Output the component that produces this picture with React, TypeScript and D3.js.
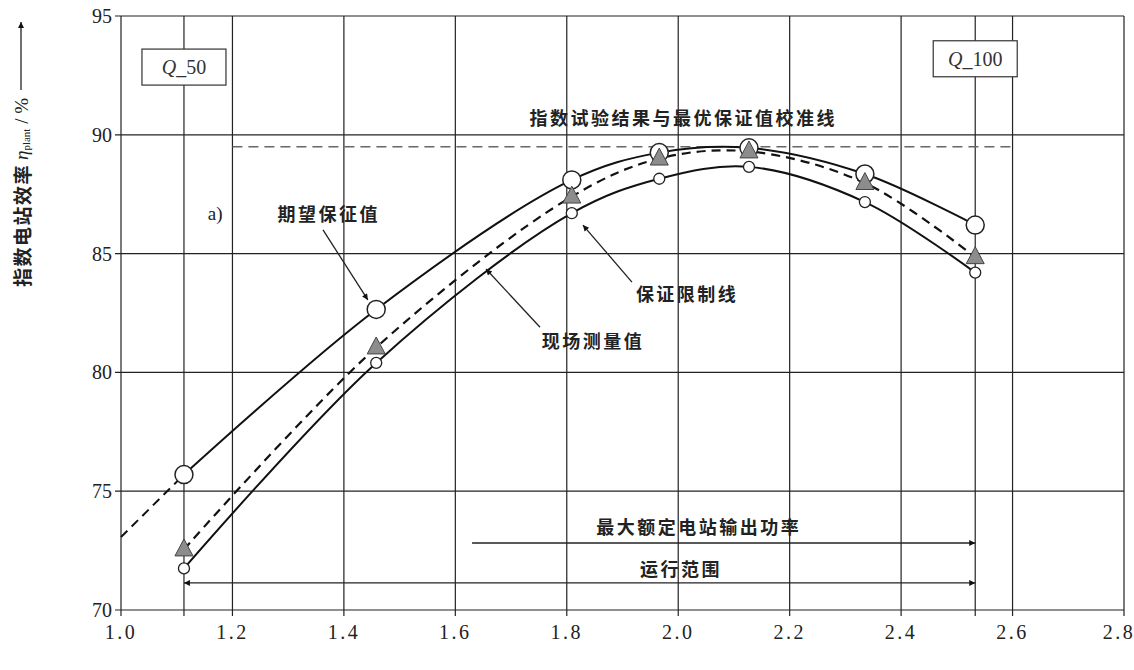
import React from 'react';
import * as d3 from 'd3';

// flow ratio at each test point and the three efficiency series (%)
const flowQ = [1.113, 1.458, 1.809, 1.966, 2.127, 2.335, 2.533];
const expected = [75.7, 82.65, 88.1, 89.25, 89.45, 88.35, 86.2];
const measured = [72.55, 81.05, 87.4, 89.0, 89.3, 87.97, 84.85];
const limit = [71.75, 80.4, 86.7, 88.15, 88.65, 87.17, 84.2];

// dashed extension of the expected curve back to the axis
const extensionQ = [1.0, 1.113];
const extensionEff = [73.07, 75.7];

const xTicks = [1.0, 1.2, 1.4, 1.6, 1.8, 2.0, 2.2, 2.4, 2.6, 2.8];
const yTicks = [70, 75, 80, 85, 90, 95];
const q50 = 1.113;
const q100 = 2.533;
const calibration = { from: 1.2, to: 2.6, eff: 89.5 };

const W = 1134;
const H = 670;
const serif = '"Liberation Serif", "DejaVu Serif", serif';
const cjk = '"Noto Sans CJK SC", sans-serif';

const App: React.FC = () => {
    const x = d3.scaleLinear().domain([1.0, 2.8]).range([121, 1124]);
    const y = d3.scaleLinear().domain([70, 95]).range([610, 16]);

    const line = d3.line<[number, number]>()
        .x(d => x(d[0]))
        .y(d => y(d[1]))
        .curve(d3.curveCatmullRom.alpha(0.5));
    const straight = d3.line<[number, number]>().x(d => x(d[0])).y(d => y(d[1]));

    const pts = (vals: number[]) => flowQ.map((q, i) => [q, vals[i]] as [number, number]);
    const vLines = [...xTicks, q50, q100];

    const tri = (cx: number, cy: number) => {
        const s = 18;
        return `M${cx},${cy - s * 0.58}L${cx + s / 2},${cy + s * 0.36}L${cx - s / 2},${cy + s * 0.36}Z`;
    };

    // annotation arrows in data space: [from, to]
    const arrows: [number, number, number, number][] = [
        [1.3625, 86.0, 1.443, 83.05],
        [1.917, 83.8, 1.829, 86.2],
        [1.752, 81.9, 1.655, 84.35],
    ];

    const cjkText = (tx: number, ty: number, label: string) => (
        <text x={x(tx)} y={y(ty)} textAnchor="middle" dominantBaseline="central"
            fontFamily={cjk} fontWeight="bold" fontSize={18} letterSpacing={2.5} fill="#222">{label}</text>
    );

    const qBox = (q: number, eff: number, num: string) => (
        <g>
            <rect x={x(q) - 42} y={y(eff) - 18} width={84} height={36} fill="#fff" stroke="#333" strokeWidth={1.2} />
            <text x={x(q)} y={y(eff)} textAnchor="middle" dominantBaseline="central" fontFamily={serif} fontSize={20} fill="#333">
                <tspan fontStyle="italic">Q</tspan>_{num}
            </text>
        </g>
    );

    return (
        <div style={{ position: 'absolute', left: 0, top: 0 }}>
            <svg width={W} height={H} style={{ display: 'block', background: '#fff' }}>
                <defs>
                    <marker id="head" viewBox="0 0 10 10" refX="10" refY="5" markerWidth="15" markerHeight="6"
                        markerUnits="userSpaceOnUse" orient="auto-start-reverse">
                        <path d="M0,0L10,5L0,10Z" fill="#111" />
                    </marker>
                </defs>

                {/* grid */}
                {yTicks.map(t => (
                    <g key={'h' + t}>
                        <line x1={x(1.0) - 6} x2={x(2.8)} y1={y(t)} y2={y(t)} stroke="#222" strokeWidth={1.2} />
                        <text x={x(1.0) - 9} y={y(t)} textAnchor="end" dominantBaseline="central"
                            fontFamily={serif} fontSize={20} fill="#222">{t}</text>
                    </g>
                ))}
                {vLines.map(t => (
                    <line key={'v' + t} x1={x(t)} x2={x(t)} y1={y(95)} y2={y(70) + 6} stroke="#222" strokeWidth={1.2} />
                ))}
                {xTicks.map((t, i) => (
                    <text key={'xl' + t} x={x(t)} dx={i === xTicks.length - 1 ? -5 : 0} y={y(70) + 29} textAnchor="middle"
                        fontFamily={serif} fontSize={20} letterSpacing={2.5} fill="#222">{t.toFixed(1)}</text>
                ))}

                {/* calibration line */}
                <line x1={x(calibration.from)} x2={x(calibration.to)} y1={y(calibration.eff)} y2={y(calibration.eff)}
                    stroke="#666" strokeWidth={1.5} strokeDasharray="10,6" />

                {/* curves */}
                <path d={straight(extensionQ.map((q, i) => [q, extensionEff[i]] as [number, number]))!}
                    fill="none" stroke="#111" strokeWidth={2} strokeDasharray="9,6" />
                <path d={line(pts(expected))!} fill="none" stroke="#111" strokeWidth={2} />
                <path d={line(pts(limit))!} fill="none" stroke="#111" strokeWidth={2} />
                <path d={line(pts(measured))!} fill="none" stroke="#111" strokeWidth={2.2} strokeDasharray="9,6" />

                {/* markers */}
                {pts(expected).map(([q, v]) => (
                    <circle key={'e' + q} cx={x(q)} cy={y(v)} r={9} fill="#fff" stroke="#222" strokeWidth={1.5} />
                ))}
                {pts(measured).map(([q, v]) => (
                    <path key={'m' + q} d={tri(x(q), y(v))} fill="#8c8c8c" stroke="#444" strokeWidth={1} />
                ))}
                {pts(limit).map(([q, v]) => (
                    <circle key={'l' + q} cx={x(q)} cy={y(v)} r={5.5} fill="#fff" stroke="#222" strokeWidth={1.3} />
                ))}

                {/* annotation arrows */}
                {arrows.map((a, i) => (
                    <line key={'a' + i} x1={x(a[0])} y1={y(a[1])} x2={x(a[2])} y2={y(a[3])}
                        stroke="#222" strokeWidth={1.3} markerEnd="url(#head)" />
                ))}
                <line x1={x(1.63)} x2={x(q100)} y1={y(72.82)} y2={y(72.82)} stroke="#222" strokeWidth={1.3} markerEnd="url(#head)" />
                <line x1={x(q50)} x2={x(q100)} y1={y(71.14)} y2={y(71.14)} stroke="#222" strokeWidth={1.3}
                    markerStart="url(#head)" markerEnd="url(#head)" />

                {/* labels */}
                {cjkText(2.009, 90.75, '指数试验结果与最优保证值校准线')}
                {cjkText(1.373, 86.7, '期望保征值')}
                {cjkText(2.016, 83.34, '保证限制线')}
                {cjkText(1.847, 81.36, '现场测量值')}
                {cjkText(2.037, 73.54, '最大额定电站输出功率')}
                {cjkText(2.005, 71.77, '运行范围')}
                <text x={x(1.169)} y={y(86.7)} textAnchor="middle" dominantBaseline="central" fontFamily={serif}
                    fontSize={19} fill="#222">a)</text>
                {qBox(q50, 92.85, '50')}
                {qBox(q100, 93.2, '100')}

                {/* y axis title */}
                <g transform="translate(21,98) rotate(-90)">
                    <text x={0} y={0} textAnchor="end" dominantBaseline="central" fontSize={19} fill="#222">
                        <tspan fontFamily={cjk} fontWeight="bold" letterSpacing={1.5}>指数电站效率</tspan>
                        <tspan fontFamily={serif} fontStyle="italic" dx={4}>η</tspan>
                        <tspan fontFamily={serif} fontSize={11} dy={5}>plant</tspan>
                        <tspan fontFamily={serif} dy={-5}> / %</tspan>
                    </text>
                </g>
                <line x1={21} x2={21} y1={90} y2={22} stroke="#222" strokeWidth={1.3} markerEnd="url(#head)" />
            </svg>
        </div>
    );
};

export default App;
